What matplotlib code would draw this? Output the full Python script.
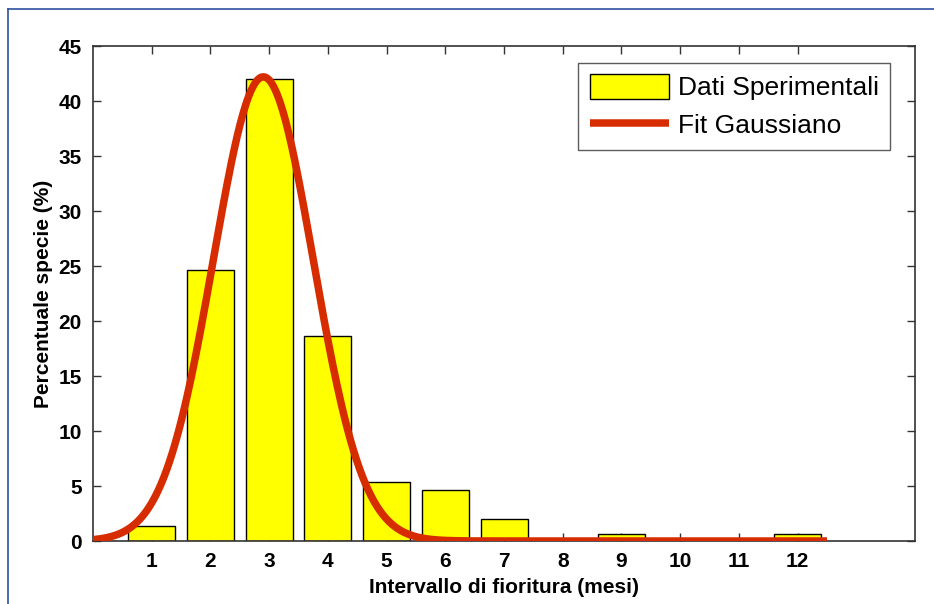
import numpy as np
import matplotlib.pyplot as plt
from matplotlib.lines import Line2D

# Flowering interval (months) and percentage of species
mesi = [1, 2, 3, 4, 5, 6, 7, 8, 9, 10, 11, 12]
percentuale = [1.35, 24.6, 42.0, 18.6, 5.35, 4.6, 2.0, 0.0, 0.65, 0.0, 0.0, 0.65]

# Gaussian fit parameters
fit_ampiezza = 42.2
fit_media = 2.9
fit_sigma = 0.85
fit_range = (0.0, 12.5)

x_ticks = list(range(1, 13))
y_ticks = list(range(0, 50, 5))

plt.rcParams['font.family'] = ['Liberation Sans', 'DejaVu Sans']

fig = plt.figure(figsize=(9.34, 6.04), dpi=100)
ax = fig.add_axes([0.0996, 0.1043, 0.8801, 0.8195])

bars = ax.bar(mesi, percentuale, width=0.8, color='#ffff00', edgecolor='black',
              linewidth=1.0, label='Dati Sperimentali', zorder=2)

xs = np.linspace(fit_range[0], fit_range[1], 500)
ys = fit_ampiezza * np.exp(-(xs - fit_media) ** 2 / (2 * fit_sigma ** 2))
line, = ax.plot(xs, ys, color='#d62c00', linewidth=5.4, label='Fit Gaussiano',
                solid_capstyle='butt', zorder=3)

ax.set_xlim(0, 14)
ax.set_ylim(0, 45)
ax.set_xticks(x_ticks)
ax.set_yticks(y_ticks)
ax.tick_params(direction='in', length=6, width=1, top=True, right=True,
               labelsize=15, pad=8, color='#333333')
for lbl in ax.get_xticklabels() + ax.get_yticklabels():
    lbl.set_fontweight('bold')
for sp in ax.spines.values():
    sp.set_linewidth(1.2)
    sp.set_color('#333333')

ax.set_xlabel('Intervallo di fioritura (mesi)', fontsize=15, fontweight='bold', labelpad=5)
ax.set_ylabel('Percentuale specie (%)', fontsize=15, fontweight='bold', labelpad=4)

leg = ax.legend([bars, line], ['Dati Sperimentali', 'Fit Gaussiano'],
                loc='upper right', fontsize=19, frameon=True, fancybox=False,
                handlelength=3.0, handleheight=1.05, borderpad=0.42,
                labelspacing=0.45, handletextpad=0.35, borderaxespad=0,
                bbox_to_anchor=(0.9696, 0.9657))
leg.get_frame().set_edgecolor('#333333')
leg.get_frame().set_linewidth(1.0)

# thin blue frame on the top and left of the picture
fig.add_artist(Line2D([8 / 934, 1], [1 - 9 / 604, 1 - 9 / 604],
                      transform=fig.transFigure, color='#2f4f9f', linewidth=1.2))
fig.add_artist(Line2D([8 / 934, 8 / 934], [0, 1 - 9 / 604],
                      transform=fig.transFigure, color='#2f4f9f', linewidth=1.2))

fig.savefig('out.png', dpi=100)
